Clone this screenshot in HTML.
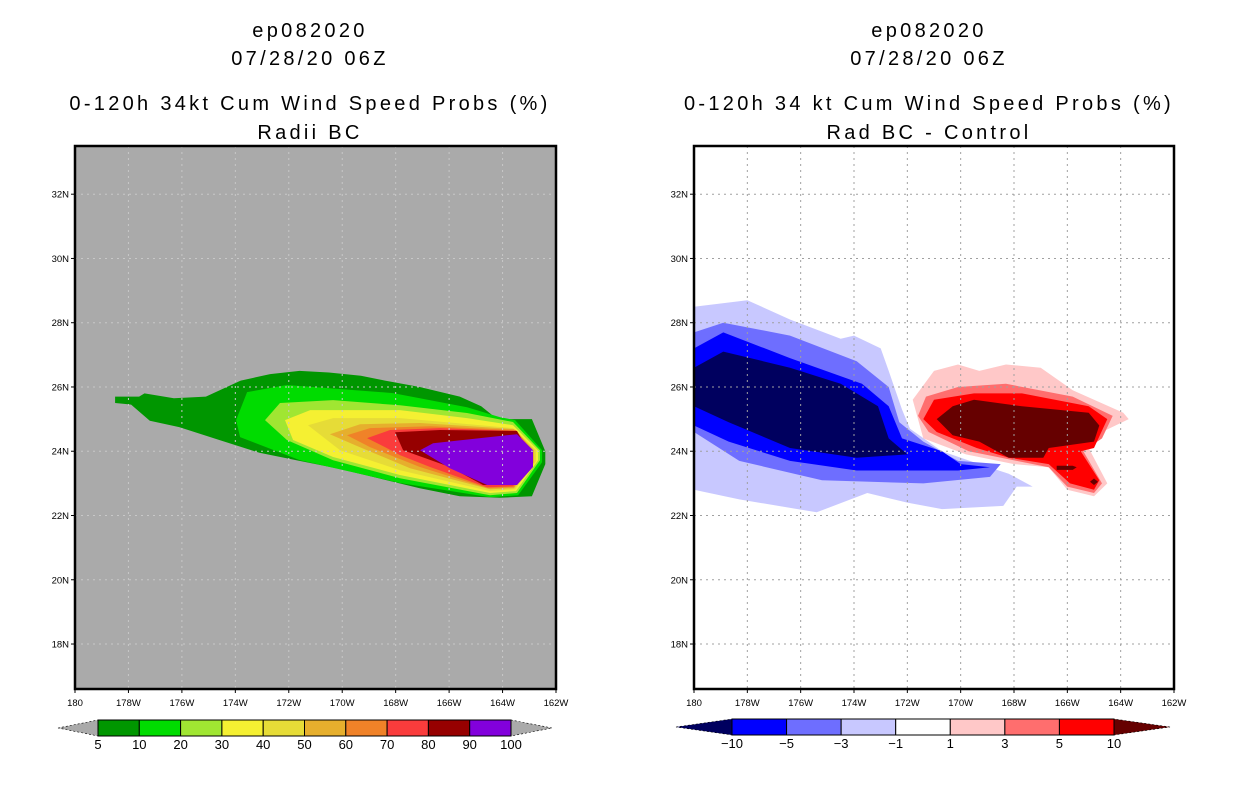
<!DOCTYPE html>
<html><head><meta charset="utf-8">
<style>
html,body{margin:0;padding:0;background:#fff;}
svg{display:block;font-family:"Liberation Sans",sans-serif;}
.t{font-size:20px;text-anchor:middle;fill:#000;letter-spacing:3.3px;}
.tk{font-size:9.5px;fill:#000;}
.cb{font-size:13px;text-anchor:middle;fill:#000;}
</style></head>
<body>
<svg id="chart" width="1236" height="800" viewBox="0 0 1236 800">
<text class="t" x="310" y="37">ep082020</text>
<text class="t" x="310" y="65">07/28/20 06Z</text>
<text class="t" x="310" y="110">0-120h 34kt Cum Wind Speed Probs (%)</text>
<text class="t" x="310" y="139">Radii BC</text>
<text class="t" x="929" y="37">ep082020</text>
<text class="t" x="929" y="65">07/28/20 06Z</text>
<text class="t" x="929" y="110">0-120h 34 kt Cum Wind Speed Probs (%)</text>
<text class="t" x="929" y="139">Rad BC - Control</text>
<g id="left"></g>
<g id="right"></g>
<g id="cbars"></g>
</svg>
<script>
// longitudes in degrees east (180 = dateline, 198 = 162W), latitudes in degrees N
const lonTicks = [180,182,184,186,188,190,192,194,196,198];
const lonLabels = ["180","178W","176W","174W","172W","170W","168W","166W","164W","162W"];
const latTicks = [18,20,22,24,26,28,30,32];
const latLabels = ["18N","20N","22N","24N","26N","28N","30N","32N"];

const leftLevels = [5,10,20,30,40,50,60,70,80,90,100];
const leftColors = ["#009600","#00dc00","#a0e632","#f5f032","#e6dc37","#e6af2d","#f08228","#fa3c3c","#960000","#8200dc"];
const leftC5 = [[181.5,25.5],[181.5,25.7],[182.4,25.7],[182.6,25.8],[183.7,25.65],[184.9,25.7],[186.2,26.2],[187.3,26.4],[188.4,26.5],[189.5,26.45],[190.7,26.35],[191.6,26.2],[192.9,26.0],[194.4,25.7],[195.2,25.4],[195.8,25.0],[197.1,25.0],[197.6,24.0],[197.6,23.6],[197.1,22.6],[195.9,22.55],[194.4,22.6],[192.9,22.85],[191.4,23.15],[189.9,23.45],[188.4,23.7],[186.9,23.95],[185.4,24.35],[183.9,24.75],[182.8,24.95],[182.1,25.45]];
const leftC10 = [[186.03,24.97],[186.44,25.84],[187.93,26.06],[191.9,25.81],[194.67,25.37],[195.91,25.06],[196.47,24.97],[197.48,24.03],[197.48,23.66],[196.58,22.63],[195.53,22.57],[192.16,23.01],[188.42,23.72],[186.18,24.44]];
const leftC20 = [[187.11,24.97],[187.67,25.5],[189.66,25.59],[192.16,25.43],[194.67,25.19],[196.39,24.91],[197.4,24.03],[197.4,23.72],[196.54,22.7],[195.53,22.63],[192.16,23.16],[189.66,23.72],[187.93,24.35]];
const leftC30 = [[187.86,24.97],[188.8,25.28],[192.16,25.28],[194.67,25.03],[196.39,24.81],[197.33,24.03],[197.33,23.72],[196.5,22.76],[195.53,22.7],[192.16,23.26],[189.66,23.82],[188.16,24.35]];
const leftC40 = [[188.72,24.81],[189.66,25.03],[192.16,25.03],[196.39,24.72],[197.25,24.03],[197.25,23.69],[196.47,22.82],[195.53,22.76],[192.16,23.41],[189.92,24.03]];
const leftC50 = [[189.54,24.53],[190.67,24.84],[192.91,24.88],[196.43,24.69],[197.18,24.03],[197.18,23.66],[196.43,22.85],[195.53,22.82],[192.54,23.47],[190.48,24.19]];
const leftC60 = [[190.18,24.5],[191.04,24.72],[193.29,24.78],[196.5,24.66],[197.1,24.03],[197.1,23.63],[196.43,22.88],[195.46,22.85],[192.91,23.51],[191.04,24.13]];
const leftC70 = [[190.93,24.41],[191.79,24.66],[193.66,24.72],[196.5,24.63],[197.03,24.03],[197.03,23.6],[196.39,22.91],[195.42,22.88],[193.29,23.51],[192.16,23.88],[191.6,24.13]];
const leftC80 = [[191.98,24.59],[193.66,24.66],[196.54,24.63],[196.95,24.03],[196.95,23.57],[196.54,22.95],[195.27,22.95],[194.03,23.51],[192.28,24.03]];
const leftC90 = [[192.91,24.03],[193.4,24.25],[196.54,24.53],[197.14,24.03],[197.14,23.51],[196.54,22.95],[195.42,22.95],[194.03,23.47]];
const leftContours = [leftC5,leftC10,leftC20,leftC30,leftC40,leftC50,leftC60,leftC70,leftC80,leftC90];

const rightLevels = [-10,-5,-3,-1,1,3,5,10];
const rightColors = ["#00005f","#0000ff","#6e6eff","#c8c8ff","#ffffff","#ffc8c8","#ff6e6e","#ff0000","#660000"];
const negC1 = [[180.0,28.5],[182.0,28.7],[183.6,28.1],[185.5,27.5],[186.0,27.6],[187.0,27.2],[187.3,26.5],[187.8,25.3],[188.1,24.7],[189.3,24.0],[190.7,23.6],[191.8,23.3],[192.7,22.9],[192.1,22.9],[191.6,22.3],[189.3,22.2],[188.0,22.4],[186.5,22.7],[184.6,22.1],[181.7,22.5],[180.0,22.8]];
const negC3 = [[180.0,27.7],[181.1,28.0],[183.6,27.6],[186.1,26.8],[187.3,26.0],[187.7,24.9],[188.6,24.3],[189.9,23.7],[191.5,23.6],[191.1,23.2],[188.6,23.0],[184.8,23.1],[181.7,23.7],[180.0,24.6]];
const negC5 = [[180.0,27.2],[181.1,27.7],[183.6,26.9],[186.3,26.1],[187.3,25.4],[187.8,24.4],[189.3,24.0],[190.0,23.6],[191.1,23.5],[189.9,23.4],[186.1,23.4],[183.6,23.7],[181.3,24.3],[180.0,24.8]];
const negC10 = [[180.0,26.6],[181.1,27.1],[183.6,26.6],[185.5,26.1],[186.9,25.4],[187.3,24.4],[188.0,23.9],[186.1,23.8],[183.6,24.1],[181.3,24.9],[180.0,25.4]];
const posC1 = [[188.2,25.6],[189.0,26.5],[189.9,26.7],[190.7,26.5],[191.7,26.7],[193.0,26.6],[194.2,25.9],[196.1,25.2],[196.3,25.0],[195.3,24.6],[194.8,24.1],[195.5,23.0],[195.0,22.6],[194.0,22.8],[193.3,23.5],[192.0,23.6],[190.2,23.9],[188.6,24.4]];
const posC3 = [[188.4,25.1],[188.7,25.7],[189.9,26.0],[191.7,26.1],[194.2,25.7],[195.7,25.1],[195.3,24.4],[194.6,24.0],[195.3,23.0],[195.0,22.7],[194.0,22.9],[193.3,23.5],[192.1,23.7],[190.3,24.0],[188.8,24.6]];
const posC5 = [[188.6,25.0],[189.0,25.6],[190.5,25.8],[192.3,25.8],[194.8,25.4],[195.5,25.0],[195.0,24.1],[194.5,24.0],[195.2,23.1],[195.0,22.8],[194.1,23.0],[193.3,23.6],[191.8,23.8],[190.6,24.1],[189.1,24.6]];
const posC10 = [[189.1,25.0],[189.7,25.4],[190.5,25.6],[192.3,25.4],[194.8,25.2],[195.2,24.8],[195.0,24.3],[193.3,24.1],[193.1,23.8],[191.8,23.8],[190.7,24.3],[189.7,24.5]];
const posSpotA = [[193.6,23.55],[194.2,23.55],[194.35,23.5],[194.2,23.42],[193.6,23.42]];
const posSpotB = [[194.85,23.05],[195.0,23.15],[195.15,23.05],[195.0,22.95]];
const rightContours = [negC1,negC3,negC5,negC10,posC1,posC3,posC5,posC10,posSpotA,posSpotB];
const rightContourColors = ["#c8c8ff","#6e6eff","#0000ff","#00005f","#ffc8c8","#ff6e6e","#ff0000","#660000","#660000","#660000"];

const NS = "http://www.w3.org/2000/svg";
function mk(tag, attrs, parent){const e=document.createElementNS(NS,tag);for(const k in attrs)e.setAttribute(k,attrs[k]);parent.appendChild(e);return e;}
const LAT0=16.6, LAT1=33.5, LON0=180, LON1=198;

function drawPanel(g, x0, x1, y0, y1, bg, contours, colors, prefix){
  const xs = lon => x0 + (lon-LON0)/(LON1-LON0)*(x1-x0);
  const ys = lat => y1 - (lat-LAT0)/(LAT1-LAT0)*(y1-y0);
  const bgR = mk("rect",{x:x0,y:y0,width:x1-x0,height:y1-y0,fill:bg},g);
  
  
  contours.forEach((c,i)=>{
    const p = mk("polygon",{points:c.map(q=>xs(q[0]).toFixed(1)+","+ys(q[1]).toFixed(1)).join(" "),fill:colors[i]},g);
    
    
  });
  const gridCol = prefix==="left" ? "#c8c8c8" : "#a0a0a0";
  lonTicks.forEach((lon,i)=>{
    const x = xs(lon);
    if(i>0 && i<lonTicks.length-1){
      const gl = mk("line",{x1:x,y1:y0,x2:x,y2:y1,stroke:gridCol,"stroke-width":1,"stroke-dasharray":"2,4"},g);
      
      
    }
    mk("line",{x1:x,y1:y1,x2:x,y2:y1+4,stroke:"#000"},g);
    const t = mk("text",{x:x,y:y1+17,"text-anchor":"middle",class:"tk"},g);
    t.textContent = lonLabels[i];
    
    
  });
  latTicks.forEach((lat,i)=>{
    const y = ys(lat);
    const gl = mk("line",{x1:x0,y1:y,x2:x1,y2:y,stroke:gridCol,"stroke-width":1,"stroke-dasharray":"2,4"},g);
    
    
    mk("line",{x1:x0-4,y1:y,x2:x0,y2:y,stroke:"#000"},g);
    const t = mk("text",{x:x0-6,y:y+3.5,"text-anchor":"end",class:"tk"},g);
    t.textContent = latLabels[i];
    
    
  });
  const fr = mk("rect",{x:x0,y:y0,width:x1-x0,height:y1-y0,fill:"none",stroke:"#000","stroke-width":2.5},g);
  
  
}
drawPanel(document.getElementById("left"),75,556,146,689,"#aaaaaa",leftContours,leftColors,"left");
drawPanel(document.getElementById("right"),694,1174,146,689,"#ffffff",rightContours,rightContourColors,"right");

function drawBar(g, tipL, bx0, bx1, tipR, y0, y1, levels, boxColors, leftTri, rightTri, prefix){
  const n = boxColors.length, w=(bx1-bx0)/n, ym=(y0+y1)/2;
  const tl = mk("polygon",{points:`${tipL},${ym} ${bx0},${y0} ${bx0},${y1}`,fill:leftTri,stroke:"#000","stroke-width":0.6,"stroke-dasharray":"2,2"},g);
  
  
  const tr = mk("polygon",{points:`${tipR},${ym} ${bx1},${y0} ${bx1},${y1}`,fill:rightTri,stroke:"#000","stroke-width":0.6,"stroke-dasharray":"2,2"},g);
  
  
  boxColors.forEach((c,i)=>{
    const r = mk("rect",{x:bx0+i*w,y:y0,width:w,height:y1-y0,fill:c,stroke:"#000","stroke-width":1},g);
    
    
  });
  levels.forEach((lv,i)=>{
    const t = mk("text",{x:bx0+i*w,y:y1+13,class:"cb"},g);
    t.textContent = lv<0 ? "\u2212"+(-lv) : String(lv);
    
    
  });
}
const cb = document.getElementById("cbars");
drawBar(cb,58,98,511,552,720,736,leftLevels,leftColors,"#aaaaaa","#aaaaaa","left");
drawBar(cb,676,732,1114,1170,719,735,rightLevels,rightColors.slice(1,8),rightColors[0],rightColors[8],"right");
</script>
</body></html>
